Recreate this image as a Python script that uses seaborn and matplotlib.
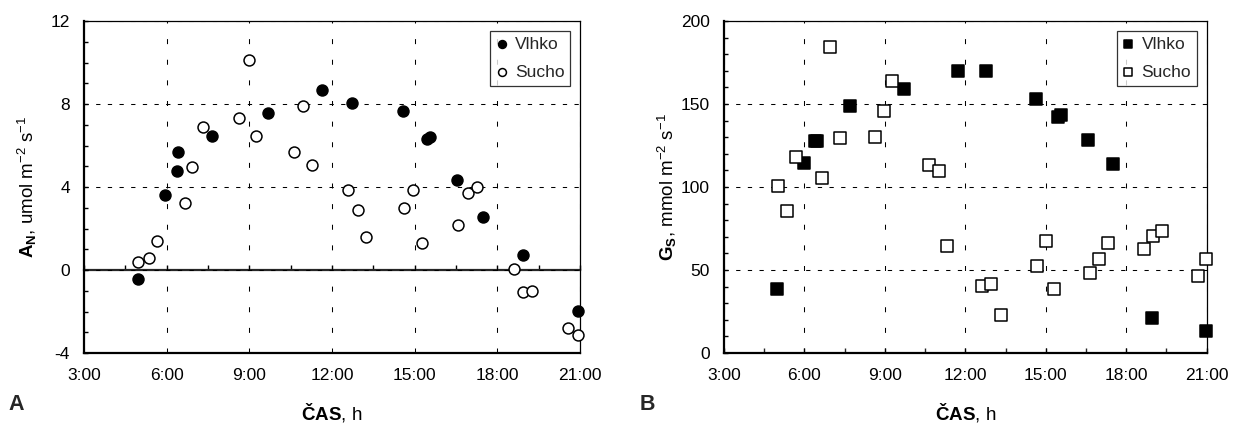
import numpy as np
import pandas as pd
import matplotlib
matplotlib.use("Agg")
import matplotlib.pyplot as plt
import seaborn as sns
from matplotlib.ticker import MultipleLocator, FuncFormatter

# ---------------- data ----------------
# Panel A: net assimilation A_N (umol m-2 s-1) vs time of day (h)
a_vlhko_time = [4.97, 5.93, 6.36, 6.42, 7.65, 9.69, 11.64, 12.73, 14.57, 15.43, 15.57, 16.53, 17.47, 18.92, 20.94]
a_vlhko_val = [-0.44, 3.61, 4.79, 5.68, 6.48, 7.58, 8.67, 8.06, 7.66, 6.32, 6.40, 4.32, 2.56, 0.74, -1.97]

a_sucho_time = [4.97, 5.35, 5.64, 6.65, 6.93, 7.31, 8.61, 8.97, 9.26, 10.63, 10.93, 11.28, 12.59,
                12.95, 13.25, 14.62, 14.93, 15.27, 16.59, 16.95, 17.25, 18.61, 18.92, 19.27, 20.58, 20.94]
a_sucho_val = [0.37, 0.58, 1.39, 3.21, 4.98, 6.87, 7.34, 10.13, 6.48, 5.68, 7.90, 5.05, 3.87,
               2.89, 1.61, 2.97, 3.87, 1.31, 2.19, 3.69, 4.02, 0.05, -1.08, -1.00, -2.81, -3.13]

# Panel B: stomatal conductance G_S (mmol m-2 s-1) vs time of day (h)
g_vlhko_time = [4.99, 5.98, 6.39, 6.48, 7.69, 9.72, 11.73, 12.78, 14.62, 15.45, 15.57, 16.57, 17.49, 18.95, 20.98]
g_vlhko_val = [38.8, 114.4, 127.5, 128.0, 148.8, 159.0, 169.8, 169.8, 152.8, 142.2, 143.6, 128.2, 113.6, 21.0, 13.0]

g_sucho_time = [5.00, 5.36, 5.68, 6.65, 6.94, 7.32, 8.63, 8.95, 9.26, 10.63, 11.02, 11.31, 12.62,
                12.96, 13.33, 14.67, 14.99, 15.29, 16.66, 17.00, 17.33, 18.65, 18.98, 19.33, 20.67, 20.98]
g_sucho_val = [100.6, 85.8, 118.2, 105.6, 184.2, 129.4, 130.0, 146.0, 163.6, 113.4, 109.6, 64.2, 40.4,
               41.6, 22.8, 52.4, 67.4, 38.6, 48.4, 56.4, 66.0, 62.4, 70.2, 73.4, 46.4, 56.4]

series_names = ["Vlhko", "Sucho"]
x_ticks_hours = [3, 6, 9, 12, 15, 18, 21]

# ---------------- style ----------------
sns.set_theme(style="white")
plt.rcParams["font.family"] = ["Liberation Sans", "DejaVu Sans"]
plt.rcParams["mathtext.fontset"] = "custom"
plt.rcParams["mathtext.rm"] = "Liberation Sans"
plt.rcParams["mathtext.bf"] = "Liberation Sans:bold"
plt.rcParams["mathtext.it"] = "Liberation Sans:italic"
plt.rcParams["axes.unicode_minus"] = False

W, H = 1247, 430
fig = plt.figure(figsize=(W / 100, H / 100), dpi=100)

def px_axes(l, r, t, b):
    return [l / W, 1 - b / H, (r - l) / W, (b - t) / H]

axA = fig.add_axes(px_axes(84, 580, 21, 353))
axB = fig.add_axes(px_axes(724, 1206.7, 21, 353))

tick_fs = 12.5
hgrid = (0, (4.1, 7.1))
vgrid = (0, (4.8, 15))

def style_axes(ax):
    for side in ["left", "bottom"]:
        ax.spines[side].set_linewidth(1.6)
        ax.spines[side].set_color("black")
    for side in ["top", "right"]:
        ax.spines[side].set_linewidth(0.9)
        ax.spines[side].set_color("black")
    ax.set_xlim(x_ticks_hours[0], x_ticks_hours[-1])
    ax.xaxis.set_major_locator(MultipleLocator(3))
    ax.xaxis.set_minor_locator(MultipleLocator(1.5))
    ax.xaxis.set_major_formatter(FuncFormatter(lambda v, p: f"{int(round(v))}:00"))
    ax.xaxis.grid(True, which="major", color="black", linewidth=0.75, linestyle=vgrid)
    ax.yaxis.grid(True, which="major", color="black", linewidth=0.75, linestyle=hgrid)
    ax.set_axisbelow(True)
    ax.tick_params(axis="y", which="both", direction="in", length=3.2, width=1.0,
                   left=True, right=False, labelsize=tick_fs, pad=10, colors="black")
    ax.tick_params(axis="x", labelsize=tick_fs, colors="black")

def add_points(ax, tx, ty, marker, filled, s, label):
    df = pd.DataFrame({"time": tx, "value": ty})
    sns.scatterplot(data=df, x="time", y="value", ax=ax, marker=marker, s=s,
                    color="black" if filled else "white", edgecolor="black",
                    linewidth=1.1, label=label, zorder=5, clip_on=False)

# ---------- Panel A ----------
add_points(axA, a_vlhko_time, a_vlhko_val, "o", True, 62, series_names[0])
add_points(axA, a_sucho_time, a_sucho_val, "o", False, 62, series_names[1])
style_axes(axA)
axA.set_ylim(-4, 12)
axA.yaxis.set_major_locator(MultipleLocator(4))
axA.yaxis.set_minor_locator(MultipleLocator(1))
axA.tick_params(axis="x", which="both", length=0, pad=11)

# x axis crossing at zero: secondary axis placed at the zero line
zero_frac = (0 - (-4)) / (12 - (-4))
sec = axA.secondary_xaxis(zero_frac)
sec.spines["bottom"].set_linewidth(1.6)
sec.xaxis.set_major_locator(MultipleLocator(3))
sec.xaxis.set_minor_locator(MultipleLocator(1.5))
sec.tick_params(axis="x", which="both", direction="in", length=3.5, width=1.0,
                labelbottom=False, colors="black")

# ---------- Panel B ----------
add_points(axB, g_vlhko_time, g_vlhko_val, "s", True, 68, series_names[0])
add_points(axB, g_sucho_time, g_sucho_val, "s", False, 68, series_names[1])
style_axes(axB)
axB.set_ylim(0, 200)
axB.yaxis.set_major_locator(MultipleLocator(50))
axB.yaxis.set_minor_locator(MultipleLocator(10))
axB.tick_params(axis="x", which="both", direction="in", length=3.5, width=1.0,
                bottom=True, pad=11)

# ---------- labels ----------
label_fs = 13.5
for ax, ylab in [(axA, r"$\mathbf{A}_{\mathbf{N}}$, umol m$^{-2}$ s$^{-1}$"),
                 (axB, r"$\mathbf{G}_{\mathbf{S}}$, mmol m$^{-2}$ s$^{-1}$")]:
    ax.set_xlabel(r"$\mathbf{ČAS}$, h", fontsize=label_fs, color="black")
    ax.set_ylabel(ylab, fontsize=label_fs, color="black")
    wpx = ax.get_position().width * W
    hpx = ax.get_position().height * H
    ax.yaxis.set_label_coords(-45 / wpx, 0.5)
    ax.xaxis.set_label_coords(0.5, -(401 - 353) / hpx)

    leg = ax.legend(loc="upper right", fontsize=12.5, frameon=True, fancybox=False,
                    markerscale=0.72, handlelength=0.6, handletextpad=0.45,
                    borderpad=0.35, labelspacing=0.75, borderaxespad=0.55)
    leg.get_frame().set_edgecolor("black")
    leg.get_frame().set_linewidth(0.9)

fig.text(8 / W, 1 - 410 / H, "A", fontsize=15.5, fontweight="bold", va="baseline", ha="left")
fig.text(640 / W, 1 - 410 / H, "B", fontsize=15.5, fontweight="bold", va="baseline", ha="left")

fig.savefig("out.png", dpi=100, facecolor="white")
